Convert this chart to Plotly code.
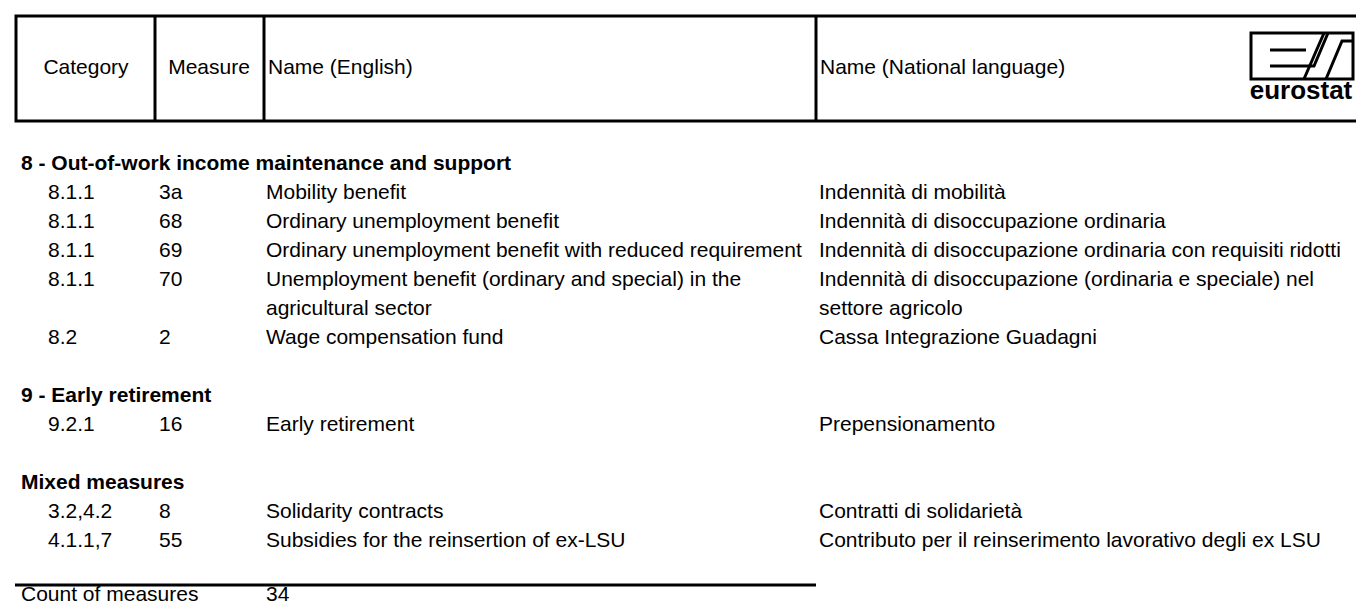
import plotly.graph_objects as go

# ---------------- data ----------------
header_labels = ["Category", "Measure", "Name (English)", "Name (National language)"]
group_titles = [
    "8 - Out-of-work income maintenance and support",
    "9 - Early retirement",
    "Mixed measures",
]
row_group = [0, 0, 0, 0, 0, 1, 2, 2]
categories = ["8.1.1", "8.1.1", "8.1.1", "8.1.1", "8.2", "9.2.1", "3.2,4.2", "4.1.1,7"]
measures = ["3a", "68", "69", "70", "2", "16", "8", "55"]
names_en = [
    "Mobility benefit",
    "Ordinary unemployment benefit",
    "Ordinary unemployment benefit with reduced requirement",
    "Unemployment benefit (ordinary and special) in the<br>agricultural sector",
    "Wage compensation fund",
    "Early retirement",
    "Solidarity contracts",
    "Subsidies for the reinsertion of ex-LSU",
]
names_nat = [
    "Indennità di mobilità",
    "Indennità di disoccupazione ordinaria",
    "Indennità di disoccupazione ordinaria con requisiti ridotti",
    "Indennità di disoccupazione (ordinaria e speciale) nel<br>settore agricolo",
    "Cassa Integrazione Guadagni",
    "Prepensionamento",
    "Contratti di solidarietà",
    "Contributo per il reinserimento lavorativo degli ex LSU",
]
count_label = "Count of measures"
count_value = 34

# ---------------- layout constants ----------------
W, H = 1364, 604
FONT = "Liberation Sans, Arial, sans-serif"
FS = 21
Y0 = 157
LH = 29.0
X_GROUP = 13
X_CAT = 40
X_MEAS = 151
X_EN = 258
X_NAT = 811

# compute line indices
lines_group = []
lines_row = []
line = 0
for g in range(len(group_titles)):
    lines_group.append(line)
    line += 1
    for i, rg in enumerate(row_group):
        if rg == g:
            lines_row.append(line)
            n_lines = max(names_en[i].count("<br>"), names_nat[i].count("<br>")) + 1
            line += n_lines
    line += 1
count_line = line
sep_line = line - 0.5

def ypos(l):
    return Y0 + LH * l

fig = go.Figure()

def add_text(xs, ys, texts, bold=False, size=FS, pos="middle right"):
    fig.add_trace(go.Scatter(
        x=xs, y=ys, text=[f"<b>{t}</b>" if bold else t for t in texts],
        mode="text", textposition=pos,
        textfont=dict(family=FONT, size=size, color="#000000"),
        hoverinfo="skip", showlegend=False, cliponaxis=False,
    ))

# group headers
add_text([X_GROUP] * len(group_titles), [ypos(l) for l in lines_group], group_titles, bold=True)

# rows
add_text([X_CAT] * len(categories), [ypos(l) for l in lines_row], categories)
add_text([X_MEAS] * len(measures), [ypos(l) for l in lines_row], measures)
for col_x, col in ((X_EN, names_en), (X_NAT, names_nat)):
    xs, ys, ts = [], [], []
    for l, t in zip(lines_row, col):
        for k, part in enumerate(t.split("<br>")):
            xs.append(col_x)
            ys.append(ypos(l + k))
            ts.append(part)
    add_text(xs, ys, ts)

# count row
CY = ypos(count_line) - 4
add_text([X_GROUP], [CY], [count_label])
add_text([X_EN], [CY], [str(count_value)])

# header text
HY = 61
add_text([78, 201], [HY, HY], header_labels[:2], pos="middle center")
add_text([X_EN + 2, X_NAT + 1], [HY, HY], header_labels[2:])

# ---------------- shapes ----------------
shapes = []
LW = 3
shapes.append(dict(type="rect", x0=8, y0=8, x1=1359, y1=113, line=dict(color="black", width=LW)))
for xv in (147, 256, 808):
    shapes.append(dict(type="line", x0=xv, x1=xv, y0=8, y1=113, line=dict(color="black", width=LW)))
SEP_Y = 577
shapes.append(dict(type="line", x0=7, x1=808, y0=SEP_Y, y1=SEP_Y,
                   line=dict(color="black", width=LW)))

# eurostat logo
lx0, lx1, ly0, ly1 = 1243, 1345, 25, 71
lw = 3
shapes.append(dict(type="rect", x0=lx0, x1=lx1, y0=ly0, y1=ly1, line=dict(color="black", width=lw)))
shapes.append(dict(type="line", x0=1262, x1=1298, y0=42, y1=42, line=dict(color="black", width=lw)))
shapes.append(dict(type="path", path="M 1262 58 L 1306 58 L 1320 25", line=dict(color="black", width=lw)))
shapes.append(dict(type="line", x0=1296, x1=1316, y0=71, y1=25, line=dict(color="black", width=lw)))
shapes.append(dict(type="path", path="M 1318 71 L 1334 33 L 1345 33", line=dict(color="black", width=lw)))

fig.add_trace(go.Scatter(
    x=[1293], y=[84], text=["<b>eurostat</b>"], mode="text", textposition="middle center",
    textfont=dict(family=FONT, size=26, color="#000000"), hoverinfo="skip", showlegend=False,
    cliponaxis=False,
))

fig.update_layout(
    width=W, height=H, margin=dict(l=0, r=0, t=0, b=0),
    paper_bgcolor="white", plot_bgcolor="white",
    xaxis=dict(range=[0, W], visible=False, fixedrange=True),
    yaxis=dict(range=[H, 0], visible=False, fixedrange=True),
    shapes=shapes,
)

fig.write_html("out.html")
